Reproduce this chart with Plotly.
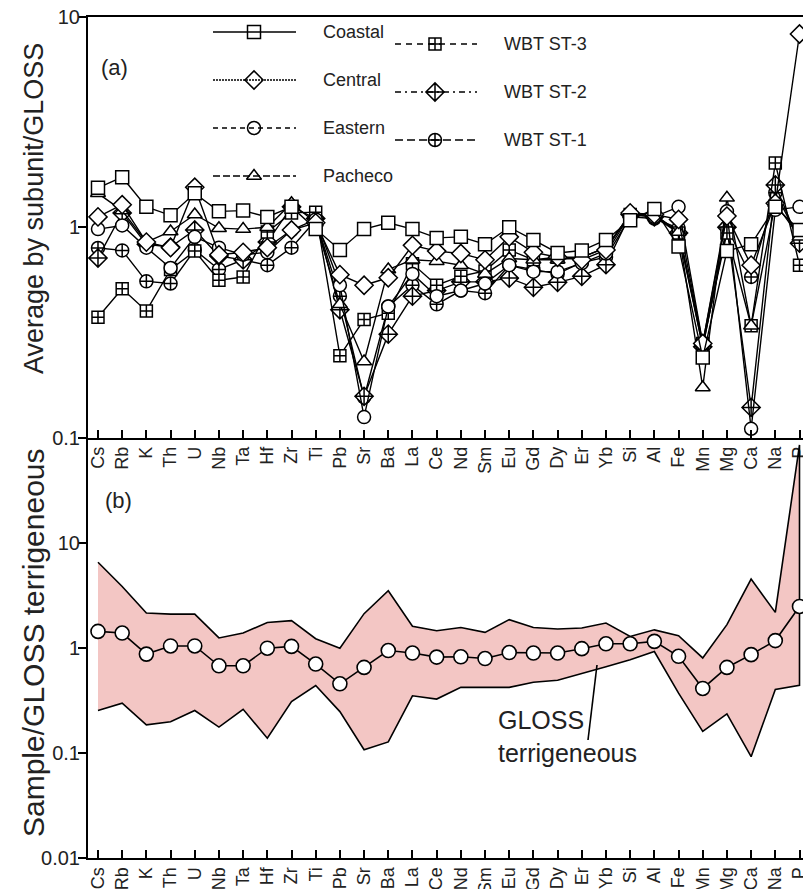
import plotly.graph_objects as go

# ---------------- data ----------------
elements = ["Cs", "Rb", "K", "Th", "U", "Nb", "Ta", "Hf", "Zr", "Ti", "Pb", "Sr", "Ba", "La", "Ce",
            "Nd", "Sm", "Eu", "Gd", "Dy", "Er", "Yb", "Si", "Al", "Fe", "Mn", "Mg", "Ca", "Na", "P"]

coastal = [1.54, 1.73, 1.25, 1.14, 1.45, 1.19, 1.20, 1.12, 1.25, 0.98, 0.78, 0.98, 1.05, 0.98, 0.89,
           0.90, 0.83, 1.00, 0.87, 0.755, 0.775, 0.87, 1.08, 1.22, 0.81, 0.24, 0.77, 0.83, 1.25, 0.97]
central = [1.12, 1.28, 0.85, 0.80, 1.55, 0.74, 0.76, 0.80, 0.97, 1.05, 0.595, 0.53, 0.575, 0.82, 0.77,
           0.75, 0.70, 0.90, 0.76, 0.72, 0.70, 0.78, 1.17, 1.15, 1.09, 0.28, 1.13, 0.66, 1.30, 8.3]
eastern = [0.98, 1.02, 0.80, 0.64, 0.90, 0.80, 0.74, 0.76, 0.97, 1.09, 0.53, 0.125, 0.42, 0.60, 0.47,
           0.50, 0.54, 0.66, 0.615, 0.615, 0.675, 0.75, 1.15, 1.12, 1.25, 0.28, 1.19, 0.11, 1.21, 1.25]
pacheco = [1.45, 1.20, 0.85, 0.955, 1.15, 0.99, 0.98, 1.00, 1.30, 1.05, 0.43, 0.23, 0.63, 0.70, 0.69,
           0.66, 0.60, 0.71, 0.70, 0.70, 0.72, 0.80, 1.15, 1.15, 0.95, 0.173, 1.38, 0.34, 1.30, 0.90]
wbt_st3 = [0.373, 0.51, 0.40, 0.63, 0.77, 0.56, 0.58, 0.95, 1.17, 1.18, 0.245, 0.364, 0.39, 0.67, 0.53,
           0.585, 0.62, 0.78, 0.70, 0.72, 0.72, 0.80, 1.15, 1.15, 0.94, 0.28, 0.94, 0.34, 2.02, 0.66]
wbt_st2 = [0.714, 1.17, 0.83, 0.805, 0.97, 0.73, 0.70, 0.85, 1.25, 1.10, 0.405, 0.157, 0.31, 0.47, 0.50,
           0.55, 0.55, 0.573, 0.518, 0.547, 0.584, 0.664, 1.15, 1.12, 0.94, 0.27, 1.0, 0.139, 1.59, 0.84]
wbt_st1 = [0.797, 0.776, 0.553, 0.54, 0.78, 0.63, 0.70, 0.66, 0.80, 1.08, 0.47, 0.155, 0.42, 0.53, 0.43,
           0.50, 0.486, 0.66, 0.63, 0.60, 0.68, 0.72, 1.12, 1.10, 0.99, 0.27, 1.0, 0.58, 1.46, 0.87]

gloss_mean = [1.43, 1.38, 0.87, 1.04, 1.04, 0.674, 0.674, 0.99, 1.03, 0.70, 0.454, 0.65, 0.94, 0.89, 0.815,
              0.82, 0.79, 0.90, 0.89, 0.89, 0.98, 1.09, 1.09, 1.15, 0.83, 0.41, 0.65, 0.86, 1.17, 2.47]
gloss_upper = [6.5, 3.83, 2.14, 2.09, 2.09, 1.24, 1.38, 1.74, 1.81, 1.22, 0.99, 2.11, 3.49, 1.6, 1.45,
               1.56, 1.40, 1.85, 1.56, 1.51, 1.54, 1.72, 1.28, 1.48, 1.30, 0.80, 1.66, 4.5, 2.17, 85.0]
gloss_lower = [0.253, 0.297, 0.185, 0.198, 0.253, 0.176, 0.26, 0.138, 0.308, 0.437, 0.247, 0.107, 0.127, 0.349, 0.325,
               0.42, 0.42, 0.42, 0.47, 0.49, 0.57, 0.66, 0.77, 0.92, 0.37, 0.16, 0.235, 0.092, 0.40, 0.44]

# ---------------- layout constants ----------------
W, H = 803, 889
ML, MR, MT, MB = 88, 0, 17, 31
PW, PH = W - ML - MR, H - MT - MB
FONT = "Liberation Sans, Arial, Helvetica, sans-serif"
TXT = "#222222"
PINK = "#f3c6c4"


def px(xp):
    return (xp - ML) / PW


def py(yp):
    return (H - MB - yp) / PH


x_idx = list(range(len(elements)))

# name, values, symbol, legend dash, legend column, legend row y (px)
series = [
    ("WBT ST-1", wbt_st1, "circle-cross", "8px,4px", 2, 140),
    ("WBT ST-2", wbt_st2, "diamond-cross", "6px,4px,2px,4px", 2, 92),
    ("WBT ST-3", wbt_st3, "square-cross", "6px,5px", 2, 44),
    ("Pacheco", pacheco, "triangle-up", "7px,3px", 1, 176),
    ("Eastern", eastern, "circle", "5px,4px", 1, 128),
    ("Central", central, "diamond", "2px,1px", 1, 80),
    ("Coastal", coastal, "square", "solid", 1, 32),
]
msize = {"circle-cross": 13, "diamond-cross": 14, "square-cross": 12, "triangle-up": 13,
         "circle": 13, "diamond": 14, "square": 13}

fig = go.Figure()

# panel (b) band + mean
fig.add_trace(go.Scatter(
    x=x_idx + x_idx[::-1], y=gloss_upper + gloss_lower[::-1],
    xaxis="x2", yaxis="y2", mode="lines", fill="toself", fillcolor=PINK,
    line=dict(color="black", width=1.6), showlegend=False, hoverinfo="skip"))
fig.add_trace(go.Scatter(
    x=x_idx, y=gloss_mean, xaxis="x2", yaxis="y2", mode="lines+markers",
    line=dict(color="black", width=1.6),
    marker=dict(symbol="circle", size=14, color="white", line=dict(color="black", width=1.6)),
    showlegend=False, cliponaxis=False))

# panel (a) series
for name, vals, sym, dash, col, ly in series:
    fig.add_trace(go.Scatter(
        x=x_idx, y=vals, xaxis="x", yaxis="y", mode="lines+markers", name=name,
        line=dict(color="black", width=1.4),
        marker=dict(symbol=sym, size=msize[sym], color="white", line=dict(color="black", width=1.5)),
        showlegend=False))

# manual legend (own invisible subplot spanning the whole plot area, 0-1 coords = paper)
leg_cols = {1: (213, 296, 254, 321), 2: (395, 477, 435, 502)}
shapes = []
annotations = []
for name, vals, sym, dash, col, ly in series:
    x0, x1, xm, xt = leg_cols[col]
    shapes.append(dict(type="line", xref="paper", yref="paper", x0=px(x0), x1=px(x1), y0=py(ly), y1=py(ly),
                       line=dict(color="black", width=1.5, dash=dash)))
    fig.add_trace(go.Scatter(
        x=[px(xm)], y=[py(ly)], xaxis="x3", yaxis="y3", mode="markers",
        marker=dict(symbol=sym, size=msize[sym], color="white", line=dict(color="black", width=1.5)),
        showlegend=False, cliponaxis=False, hoverinfo="skip"))
    annotations.append(dict(text=name, xref="paper", yref="paper", x=px(xt), y=py(ly), xanchor="left",
                            yanchor="middle", showarrow=False, font=dict(size=18, color=TXT, family=FONT)))

# panel labels and titles
annotations += [
    dict(text="(a)", xref="paper", yref="paper", x=px(99), y=py(68), xanchor="left", yanchor="middle",
         showarrow=False, font=dict(size=22, color=TXT, family=FONT)),
    dict(text="(b)", xref="paper", yref="paper", x=px(103), y=py(500), xanchor="left", yanchor="middle",
         showarrow=False, font=dict(size=22, color=TXT, family=FONT)),
    dict(text="Average by subunit/GLOSS", xref="paper", yref="paper", x=px(34), y=py(209),
         xanchor="center", yanchor="middle", textangle=-90, showarrow=False,
         font=dict(size=27, color=TXT, family=FONT)),
    dict(text="Sample/GLOSS terrigeneous", xref="paper", yref="paper", x=px(34), y=py(643),
         xanchor="center", yanchor="middle", textangle=-90, showarrow=False,
         font=dict(size=30, color=TXT, family=FONT)),
    dict(text="GLOSS<br>terrigeneous", xref="paper", yref="paper", x=px(496), y=py(704),
         xanchor="left", yanchor="top", align="left", showarrow=False,
         font=dict(size=25, color=TXT, family=FONT)),
]
# leader line for the GLOSS label
shapes.append(dict(type="line", xref="paper", yref="paper", x0=px(588), x1=px(597),
                   y0=py(740), y1=py(665), line=dict(color="black", width=1.6)))

xr = [-10 / 24.21, 29 + 3.5 / 24.21]
xcommon = dict(range=xr, tickmode="array", tickvals=x_idx, ticktext=elements, tickangle=-90,
               ticks="inside", ticklen=8, tickwidth=1.5, tickcolor="black", showline=True,
               linecolor="black", linewidth=2, showgrid=False, zeroline=False, automargin=False,
               ticklabeloverflow="allow", tickfont=dict(size=18, color=TXT, family=FONT))
ycommon = dict(type="log", ticks="outside", ticklen=8, tickwidth=1.5, tickcolor="black", showline=True,
               linecolor="black", linewidth=2, showgrid=False, zeroline=False, automargin=False,
               ticklabelstandoff=-6, tickfont=dict(size=20, color=TXT, family=FONT))

fig.update_layout(
    width=W, height=H, margin=dict(l=ML, r=MR, t=MT, b=MB, autoexpand=False),
    paper_bgcolor="white", plot_bgcolor="rgba(0,0,0,0)", showlegend=False,
    font=dict(family=FONT, color=TXT),
    xaxis=dict(anchor="y", domain=[0, 1], mirror=True, **xcommon),
    yaxis=dict(anchor="x", domain=[0.5, 1], range=[-1, 1], tickvals=[0.1, 1, 10],
               ticktext=["0.1", "1", "10"], **ycommon),
    xaxis2=dict(anchor="y2", domain=[0, 1], **xcommon),
    yaxis2=dict(anchor="x2", domain=[0, 0.5], range=[-2, 2], tickvals=[0.01, 0.1, 1, 10],
                ticktext=["0.01", "0.1", "1", "10"], **ycommon),
    xaxis3=dict(anchor="y3", domain=[0, 1], range=[0, 1], visible=False, fixedrange=True),
    yaxis3=dict(anchor="x3", domain=[0, 1], range=[0, 1], visible=False, fixedrange=True),
    shapes=shapes, annotations=annotations,
)

fig.write_html("out.html", config={"displayModeBar": False},
               post_script="document.body.style.margin='0px';")
